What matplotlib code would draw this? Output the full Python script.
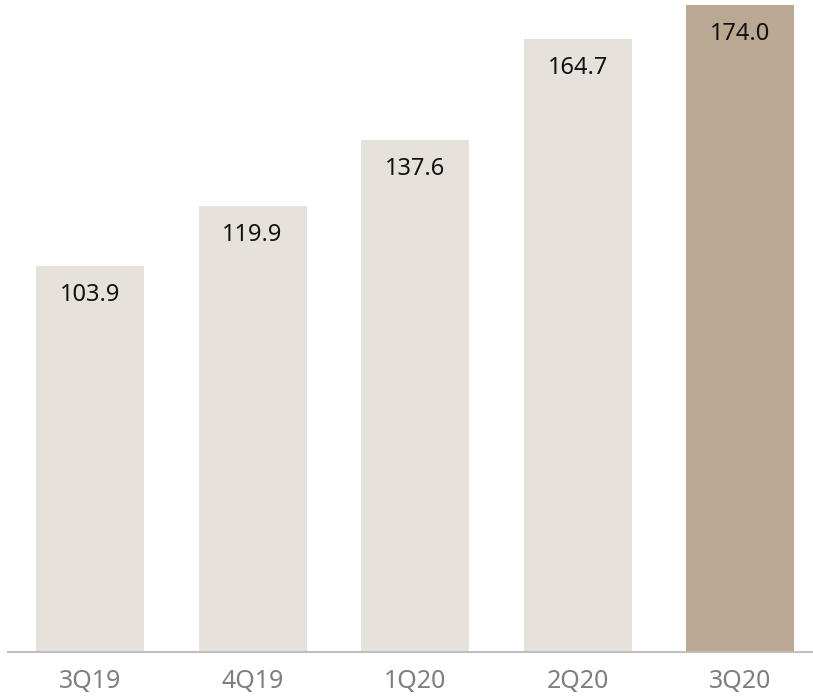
import matplotlib
matplotlib.use("Agg")
import matplotlib.pyplot as plt

categories = ["3Q19", "4Q19", "1Q20", "2Q20", "3Q20"]
values = [103.9, 119.9, 137.6, 164.7, 174.0]
labels = ["103.9", "119.9", "137.6", "164.7", "174.0"]
colors = ["#E6E2DB", "#E6E2DB", "#E6E2DB", "#E6E2DB", "#BBA892"]

W, H = 813, 698
fig = plt.figure(figsize=(W / 100, H / 100), dpi=100)
ax = fig.add_axes([8 / W, (H - 652) / H, (813 - 8) / W, 652 / H])

x = list(range(len(categories)))
ax.bar(x, values, width=0.664, color=colors)
ax.set_xlim(-0.504, 4.446)
ax.set_ylim(0, 175.3)

for xi, v, lab in zip(x, values, labels):
    ax.annotate(lab, (xi, v), xytext=(0, -29), textcoords="offset pixels",
                ha="center", va="center", fontsize=17, color="#111111",
                family="Noto Sans")

for s in ["top", "right", "left"]:
    ax.spines[s].set_visible(False)
ax.spines["bottom"].set_color("#BFBFBF")
ax.spines["bottom"].set_linewidth(1.5)
ax.set_yticks([])
ax.set_xticks(x)
ax.set_xticklabels(categories, fontsize=18, color="#7F7F7F", family="Noto Sans")
ax.tick_params(axis="x", length=0, pad=12)

fig.savefig("out.png", dpi=100)
